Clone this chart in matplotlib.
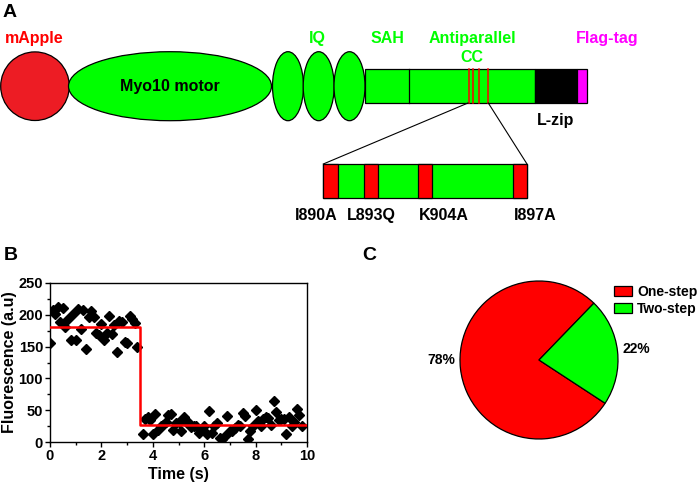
import numpy as np
import matplotlib
matplotlib.use("Agg")
import matplotlib.pyplot as plt
from matplotlib.patches import Circle, Ellipse, Rectangle

plt.rcParams["font.family"] = ["Liberation Sans", "DejaVu Sans"]
plt.rcParams["font.weight"] = "bold"
plt.rcParams["axes.labelweight"] = "bold"

# =========================
# DATA
# =========================
# panel B: photobleaching trace, frames every 0.1 s
pre_time = np.round(np.arange(35) * 0.1, 1)
pre_fluor = [156, 208, 202, 213, 189, 211, 181, 193, 160, 202,
             161, 209, 178, 208, 147, 196, 206, 197, 172, 168,
             185, 160, 171, 198, 170, 184, 141, 190, 188, 158,
             155, 198, 193, 187, 150]
post_time = np.round(3.6 + np.arange(63) * 0.1, 1)
post_fluor = [13, 36, 39, 35, 13, 44, 19, 25, 26, 31,
              42, 44, 19, 30, 32, 18, 40, 32, 30, 23,
              25, 25, 14, 19, 25, 12, 48, 14, 25, 30,
              6, 5, 9, 41, 18, 18, 22, 26, 25, 45,
              41, 4, 18, 25, 50, 33, 25, 36, 40, 38,
              26, 65, 47, 35, 36, 36, 13, 40, 25, 32,
              52, 43, 25]
step_time = 3.5
step_levels = [181, 27]

# panel C: bleaching steps
step_labels = ["One-step", "Two-step"]
step_shares = [78, 22]
step_colors = ["#FF0000", "#00FF00"]

# panel A: mutations shown in the inset
mutations = ["I890A", "L893Q", "K904A", "I897A"]

GREEN = "#00FF00"
RED = "#FF0000"

fig = plt.figure(figsize=(7, 4.83), dpi=100)

# =========================
# PANEL A: domain schematic (pixel coordinates)
# =========================
axA = fig.add_axes([0, 0, 1, 1])
axA.set_xlim(0, 700)
axA.set_ylim(483, 0)
axA.axis("off")

lw = 0.9
axA.add_patch(Circle((35, 86.2), 34.3, facecolor="#ED1C24", edgecolor="black", lw=lw))
axA.add_patch(Ellipse((170, 86.2), 203, 69, facecolor=GREEN, edgecolor="black", lw=lw))
for cx in [288, 318.7, 349.5]:
    axA.add_patch(Ellipse((cx, 86.2), 31, 69, facecolor=GREEN, edgecolor="black", lw=lw))

# tail bar
axA.add_patch(Rectangle((365, 69), 170, 34, facecolor=GREEN, edgecolor="black", lw=lw))
axA.plot([409, 409], [69, 103], color="black", lw=lw)
axA.add_patch(Rectangle((535, 69), 42, 34, facecolor="black", edgecolor="black", lw=lw))
axA.add_patch(Rectangle((577, 69), 10, 34, facecolor="#FF00FF", edgecolor="black", lw=lw))
for x in [469.3, 473.3, 479, 488.3]:
    axA.plot([x, x], [69, 103], color=RED, lw=1.1)

# zoom lines + inset
axA.plot([468, 323.3], [103, 164], color="black", lw=0.8)
axA.plot([488.3, 527], [103, 164], color="black", lw=0.8)
axA.add_patch(Rectangle((323.3, 164), 203.7, 34, facecolor=GREEN, edgecolor="black", lw=lw))
for x0, x1 in [(323.3, 337.7), (364, 377.7), (418.3, 432.3), (513.3, 527)]:
    axA.add_patch(Rectangle((x0, 164), x1 - x0, 34, facecolor=RED, edgecolor="black", lw=lw))
for name, cx in zip(mutations, [316, 371, 444, 535]):
    axA.text(cx, 220, name, ha="center", va="baseline", fontsize=11.5, fontweight="bold")

fs = 11.5
axA.text(34, 43, "mApple", color=RED, ha="center", va="baseline", fontsize=fs)
axA.text(170, 91, "Myo10 motor", color="black", ha="center", va="baseline", fontsize=fs)
axA.text(317, 43, "IQ", color=GREEN, ha="center", va="baseline", fontsize=fs)
axA.text(387, 43, "SAH", color=GREEN, ha="center", va="baseline", fontsize=fs)
axA.text(472, 43, "Antiparallel", color=GREEN, ha="center", va="baseline", fontsize=fs)
axA.text(472, 62, "CC", color=GREEN, ha="center", va="baseline", fontsize=fs)
axA.text(607, 43, "Flag-tag", color="#FF00FF", ha="center", va="baseline", fontsize=fs)
axA.text(555.5, 125, "L-zip", color="black", ha="center", va="baseline", fontsize=fs)

axA.text(3, 17, "A", ha="left", va="baseline", fontsize=14)
axA.text(4, 260, "B", ha="left", va="baseline", fontsize=14)
axA.text(362, 260, "C", ha="left", va="baseline", fontsize=14)

# =========================
# PANEL B: fluorescence trace
# =========================
axB = fig.add_axes([50 / 700, (483 - 442) / 483, 257 / 700, 159 / 483])
axB.plot(pre_time, pre_fluor, "D", color="black", ms=4.8, zorder=3)
axB.plot(post_time, post_fluor, "D", color="black", ms=4.8, zorder=3)
axB.plot([0, step_time, step_time, 10],
         [step_levels[0], step_levels[0], step_levels[1], step_levels[1]],
         color=RED, lw=1.8, zorder=4)
axB.set_xlim(0, 10)
axB.set_ylim(0, 250)
axB.set_xticks(range(0, 11, 2))
axB.set_xticks(range(1, 10, 2), minor=True)
axB.set_yticks(range(0, 251, 50))
axB.set_yticks(range(25, 250, 50), minor=True)
axB.tick_params(which="major", direction="out", length=3.5, width=1, labelsize=10.5, pad=1.5)
axB.tick_params(which="minor", direction="out", length=2, width=1)
for lab in axB.get_xticklabels() + axB.get_yticklabels():
    lab.set_fontweight("bold")
for s in axB.spines.values():
    s.set_linewidth(1)
axB.set_xlabel("Time (s)", fontsize=11.5, fontweight="bold", labelpad=3)
axB.set_ylabel("Fluorescence (a.u)", fontsize=11.5, fontweight="bold", labelpad=1)

# =========================
# PANEL C: pie
# =========================
axC = fig.add_axes([460 / 700, (483 - 439) / 483, 158 / 700, 158 / 483])
wedges, _, pct = axC.pie(step_shares, colors=step_colors, startangle=46,
                         autopct=lambda p: f"{p:.0f}%", pctdistance=1.24,
                         wedgeprops=dict(edgecolor="black", linewidth=0.9),
                         textprops=dict(fontsize=10, fontweight="bold"))
pct[0].set_y(0)
axC.set_xlim(-1, 1)
axC.set_ylim(-1, 1)

fig.legend(wedges, step_labels, loc="upper left",
           bbox_to_anchor=(614 / 700, (483 - 285) / 483), frameon=False,
           prop=dict(size=10, weight="bold"), handlelength=1.3, handleheight=0.7,
           handletextpad=0.35, labelspacing=0.2, borderpad=0, borderaxespad=0)

fig.savefig("out.png", dpi=100)
